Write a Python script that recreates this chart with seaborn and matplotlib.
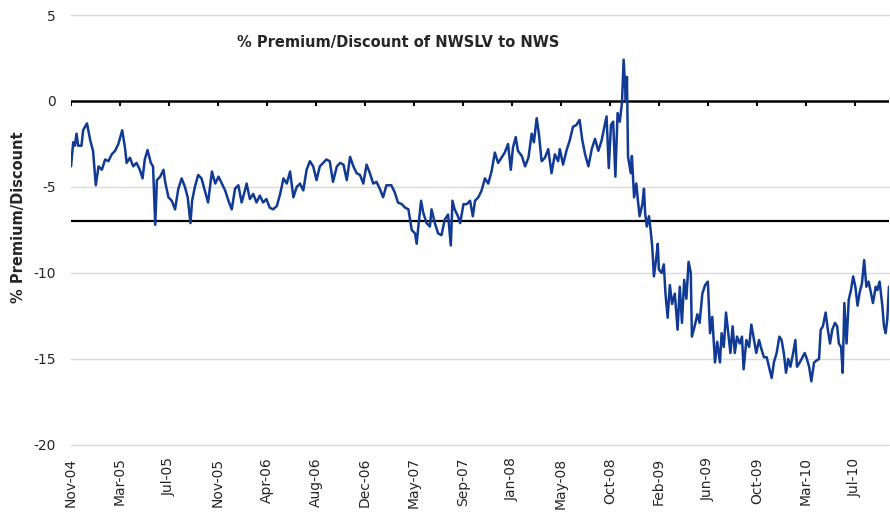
import seaborn as sns
import matplotlib.pyplot as plt
import numpy as np
import pandas as pd

# trading-day index since the start of the series, and premium/discount in %
day = [0, 4, 7, 10, 13, 19, 22, 29, 35, 40, 45, 50, 56, 62, 68, 74, 80, 86, 93, 98,
       101, 107, 113, 119, 125, 130, 134, 139, 145, 149, 153, 156, 162, 168, 171, 177, 183, 189, 195, 201,
       207, 212, 217, 220, 225, 231, 237, 243, 249, 256, 262, 268, 274, 280, 286,
       292, 298, 304, 310, 316, 319, 325, 331, 337, 343, 349, 355, 361, 367, 374, 380, 386, 392, 398,
       404, 410, 416, 422, 428, 434, 440, 446, 452, 458, 464, 470, 476, 483, 489, 495, 501, 507, 513,
       519, 525, 531, 537, 543, 549, 555, 561, 567, 573,
       576, 582, 588, 594, 601, 607, 613, 619, 625, 628, 631, 636, 640, 646, 652, 655, 661, 667, 673,
       679, 685, 690, 693, 697, 703, 707, 713, 719, 725, 730, 734, 740, 746, 752, 758, 764, 770, 776,
       782, 788, 794, 799, 803, 808, 812, 819, 825, 831, 837, 841, 846, 850, 855, 861,
       867, 873, 879, 885, 888, 894, 900, 906, 912, 918, 924, 929, 934, 940, 946, 952, 958, 964, 969,
       973, 977, 981, 985, 989, 993, 997, 1001, 1004, 1008, 1010, 1012, 1017, 1019, 1023, 1027, 1030,
       1033, 1038, 1041, 1043, 1046, 1050, 1053, 1056, 1059, 1063, 1066, 1068, 1073, 1077, 1080, 1084,
       1088, 1092, 1097, 1102, 1106, 1110, 1114, 1118, 1122, 1126, 1128, 1133, 1138, 1142, 1147, 1152, 1157,
       1161, 1165, 1170, 1174, 1179, 1182, 1186, 1190, 1194, 1198, 1202, 1206, 1210, 1215, 1219, 1222,
       1227, 1232, 1236, 1241, 1245, 1250, 1255, 1259, 1264, 1268, 1273, 1277, 1282, 1287, 1291, 1295,
       1299, 1303, 1307, 1312, 1316, 1319, 1324, 1329, 1333, 1337, 1341, 1345, 1350, 1354, 1359, 1362,
       1366, 1371, 1375, 1379, 1383, 1388, 1392, 1395, 1399, 1402, 1405, 1409, 1413, 1417, 1421, 1425,
       1429, 1433, 1437, 1441, 1445, 1449, 1453, 1457, 1462, 1465, 1469, 1474, 1477, 1480, 1483, 1486]

premium = [-3.8, -2.4, -2.6, -1.9, -2.6, -2.6, -1.7, -1.3, -2.3, -2.9, -4.9, -3.8, -4.0, -3.4, -3.5, -3.1, -2.9, -2.5, -1.7, -2.7,
           -3.6, -3.3, -3.8, -3.6, -4.0, -4.5, -3.4, -2.85, -3.6, -3.8, -7.2, -4.6, -4.4, -4.0, -4.7, -5.6, -5.8, -6.3, -5.1, -4.5,
           -5.0, -5.6, -7.1, -5.8, -5.0, -4.3, -4.5, -5.2, -5.9, -4.1, -4.8, -4.4, -4.8, -5.2, -5.8,
           -6.3, -5.1, -4.9, -5.9, -5.2, -4.8, -5.7, -5.4, -5.9, -5.5, -5.9, -5.7, -6.2, -6.3, -6.1, -5.4, -4.5, -4.8, -4.1,
           -5.6, -5.0, -4.8, -5.2, -4.0, -3.5, -3.8, -4.6, -3.8, -3.6, -3.4, -3.5, -4.7, -3.8, -3.6, -3.7, -4.6, -3.25, -3.8,
           -4.2, -4.3, -4.8, -3.7, -4.2, -4.8, -4.7, -5.1, -5.6, -4.9,
           -4.9, -4.9, -5.3, -5.9, -6.0, -6.2, -6.3, -7.5, -7.7, -8.3, -7.3, -5.8, -6.5, -7.1, -7.3, -6.3, -7.1, -7.7, -7.8,
           -6.9, -6.6, -8.4, -5.8, -6.3, -6.7, -7.1, -6.0, -6.0, -5.8, -6.7, -5.8, -5.6, -5.2, -4.5, -4.8, -4.1, -3.0, -3.6,
           -3.3, -3.0, -2.5, -4.0, -2.7, -2.1, -2.9, -3.2, -3.8, -3.3, -1.9, -2.4, -1.0, -1.9, -3.5, -3.3,
           -2.8, -4.2, -3.1, -3.5, -2.8, -3.7, -2.9, -2.3, -1.5, -1.4, -1.1, -2.3, -3.1, -3.8, -2.8, -2.2, -2.9, -2.3, -1.5,
           -0.9, -3.9, -1.4, -1.2, -4.4, -0.7, -1.2, -0.1, 2.4, 0.05, 1.4, -3.25, -4.2, -3.2, -5.6, -4.8, -5.8,
           -6.7, -6.0, -5.1, -6.5, -7.3, -6.7, -7.5, -8.5, -10.2, -9.2, -8.3, -9.8, -10.0, -9.5, -11.2, -12.6,
           -10.7, -11.8, -11.2, -13.3, -10.8, -12.9, -10.4, -11.5, -9.35, -10.0, -13.7, -13.1, -12.4, -12.9, -11.2, -10.7, -10.5,
           -13.5, -12.55, -15.2, -14.0, -15.2, -13.5, -14.3, -12.3, -13.5, -14.65, -13.1, -14.65, -13.7, -14.1, -13.7, -15.6,
           -13.9, -14.3, -13.0, -13.9, -14.65, -13.9, -14.5, -14.9, -14.9, -15.45, -16.1, -15.2, -14.65, -13.7, -13.9, -14.65,
           -15.8, -15.0, -15.45, -14.65, -13.9, -15.45, -15.2, -14.9, -14.65, -15.0, -15.45, -16.3, -15.2, -15.1, -15.0, -13.3,
           -13.1, -12.3, -13.3, -14.1, -13.3, -12.9, -13.1, -14.1, -14.3, -15.8, -11.75, -14.1, -11.55, -11.0, -10.2, -10.8,
           -11.9, -11.1, -10.6, -9.25, -10.8, -10.5, -11.1, -11.75, -10.8, -11.0, -10.5, -11.9, -13.1, -13.5, -12.7, -10.8]

tick_labels = ["Nov-04", "Mar-05", "Jul-05", "Nov-05", "Apr-06", "Aug-06", "Dec-06", "May-07", "Sep-07",
               "Jan-08", "May-08", "Oct-08", "Feb-09", "Jun-09", "Oct-09", "Mar-10", "Jul-10"]
tick_step = 89  # trading days between labelled ticks
threshold = -7

df = pd.DataFrame({"day": day, "premium": premium})

sns.set_style("white")
plt.rcParams["font.family"] = ["Verdana", "DejaVu Sans"]
plt.rcParams["axes.unicode_minus"] = False

fig = plt.figure(figsize=(8.9, 5.12), dpi=100)
ax = fig.add_axes([0.0798, 0.1309, 0.919, 0.8398])

for yv in [5, -5, -10, -15, -20]:
    ax.axhline(yv, color="#d9d9d9", lw=1, zorder=0, clip_on=False)
ax.axhline(0, color="black", lw=1.8, zorder=1)
ax.axhline(threshold, color="black", lw=1.6, zorder=1)

ticks = np.arange(len(tick_labels)) * tick_step
ax.vlines(ticks, -0.3, 0, color="black", lw=1.5, zorder=1)

sns.lineplot(data=df, x="day", y="premium", color="#113a94", lw=1.8, ax=ax, zorder=3)

ax.set_xlim(0, day[-1])
ax.set_ylim(-20, 5)
ax.set_yticks([5, 0, -5, -10, -15, -20])
ax.set_yticklabels(["5", "0", "-5", "-10", "-15", "-20"], fontsize=10)
ax.set_xticks(ticks)
ax.set_xticklabels(tick_labels, rotation=90, fontsize=10)
ax.tick_params(axis="both", length=0, pad=9)
ax.tick_params(axis="y", pad=11)
for s in ax.spines.values():
    s.set_visible(False)

ax.set_xlabel("")
ax.set_ylabel("")
fig.text(0.021, 0.575, "% Premium/Discount", rotation=90, ha="center", va="center",
         fontsize=10.5, fontweight="bold")
ax.text(0.4, 0.937, "% Premium/Discount of NWSLV to NWS", transform=ax.transAxes,
        ha="center", va="center", fontsize=10.5, fontweight="bold")

fig.savefig("out.png", dpi=100)
